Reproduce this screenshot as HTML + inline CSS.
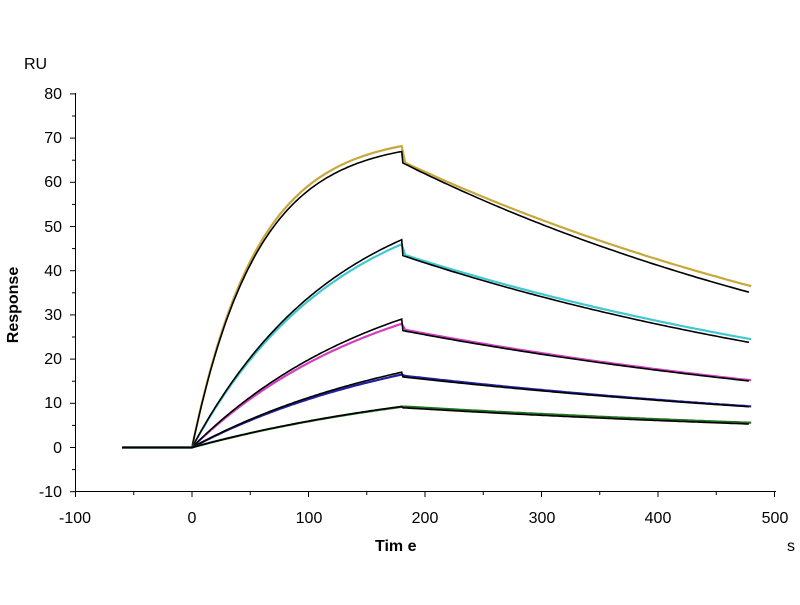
<!DOCTYPE html>
<html><head><meta charset="utf-8"><style>
body{margin:0;background:#fff}
svg text{font-family:"Liberation Sans",Arial,sans-serif;fill:#000}
</style></head><body>
<svg id="s" width="800" height="600" xmlns="http://www.w3.org/2000/svg">
<text x="24" y="69" font-size="16">RU</text>
<text transform="translate(18,305) rotate(-90)" font-size="16" font-weight="bold" text-anchor="middle">Response</text>
<text x="375" y="551" font-size="16" font-weight="bold">Tim e</text>
<text x="787" y="551" font-size="16">s</text>
<g font-size="16" text-anchor="end">
<text x="62" y="99">80</text><text x="62" y="143">70</text><text x="62" y="187">60</text>
<text x="62" y="232">50</text><text x="62" y="276">40</text><text x="62" y="320">30</text>
<text x="62" y="364">20</text><text x="62" y="408">10</text><text x="62" y="453">0</text>
<text x="62" y="497">-10</text>
</g>
<g font-size="16" text-anchor="middle">
<text x="75" y="523">-100</text><text x="192" y="523">0</text><text x="309" y="523">100</text>
<text x="425" y="523">200</text><text x="542" y="523">300</text><text x="658" y="523">400</text>
<text x="775" y="523">500</text>
</g>
<g id="ax" stroke="#000" stroke-width="1"></g>
<g id="cv" fill="none"></g>
</svg>
<script>
var X=function(t){return 192+t*1.165},Y=function(v){return 447.5-v*4.42};
var ax=document.getElementById('ax'),cv=document.getElementById('cv'),h='';
h+='<line x1="75.5" y1="93" x2="75.5" y2="491.5"/><line x1="75.5" y1="491.5" x2="776" y2="491.5"/>';
for(var v=-10;v<=80;v+=5){var y=Y(v);h+='<line x1="'+(v%10==0?70:72)+'" y1="'+y+'" x2="75.5" y2="'+y+'"/>';}
for(var t=-100;t<=500;t+=50){var x=X(t);h+='<line x1="'+x+'" y1="491.5" x2="'+x+'" y2="'+(t%100==0?497:495)+'"/>';}
ax.innerHTML=h;
var S=[[69.7,.018,64.5,35,'#c8a83c',68.2,36.5],[61.6,.008,43.5,23.7,'#40c8d0',46,24.5],[44,.006,26.5,15,'#d040c0',28,15.2],[28.7,.005,16,9.2,'#2020a0',16.5,9.3],[18.1,.004,9,5.3,'#207020',9.2,5.6]];
var o='';
S.forEach(function(s){
 function path(peak,d0,end,drop){var p='M'+X(-60)+','+Y(0)+' L'+X(0)+','+Y(0);
  var sc=peak/(s[0]*(1-Math.exp(-s[1]*180)));
  for(var t=2;t<=180;t+=2)p+=' L'+X(t).toFixed(1)+','+Y(sc*s[0]*(1-Math.exp(-s[1]*t))).toFixed(1);
  var k=Math.log(d0/end)/300;
  for(var t=180+(drop?1:3);t<=480;t+=3)p+=' L'+X(t).toFixed(1)+','+Y(d0*Math.exp(-k*(t-180))).toFixed(1);
  return p;}
 o+='<path d="'+path(s[5],s[2]+0.3,s[6],false)+'" stroke="'+s[4]+'" stroke-width="2.2"/>';
 var pk=s[0]*(1-Math.exp(-s[1]*180));
 o+='<path d="'+path(pk,s[2],s[3],true)+'" stroke="#000" stroke-width="1.6"/>';
});
cv.innerHTML=o;
</script>
</body></html>
